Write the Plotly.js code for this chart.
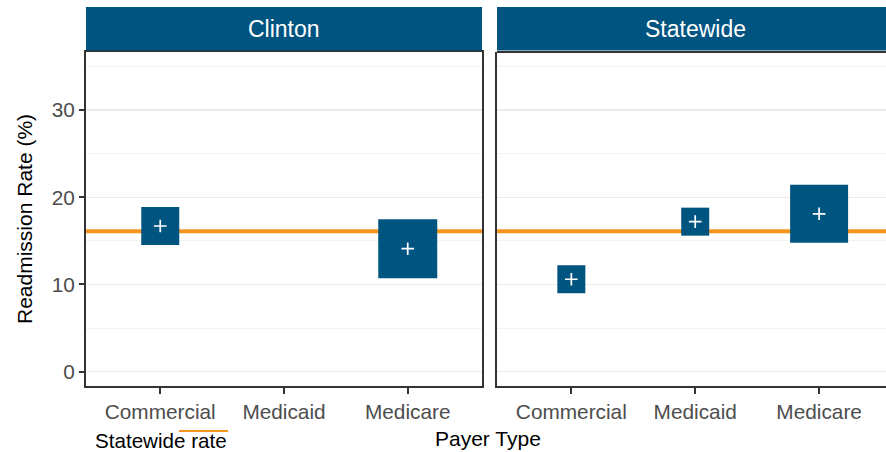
<!DOCTYPE html>
<html>
<head>
<meta charset="utf-8">
<script src="https://cdn.plot.ly/plotly-3.0.1.min.js"></script>
<style>html,body{margin:0;padding:0;overflow:hidden;background:#fff;}#chart{width:886px;height:452px;}</style>
</head>
<body>
<div id="chart"></div>
<script>
// ---- data ----
const categories = ['Commercial', 'Medicaid', 'Medicare'];
const facetLabels = ['Clinton', 'Statewide'];
const clintonRates = [16.7, null, 14.1];
const statewideRates = [10.6, 17.2, 18.1];
const statewideRate = 16.1;
const yTickVals = [0, 10, 20, 30];
const legendLabel = 'Statewide rate';
const xTitle = 'Payer Type';
const yTitle = 'Readmission Rate (%)';

// ---- styles ----
const clintonSizes = [38, 0, 59];
const statewideSizes = [28, 28, 58];
const BLUE = '#005480';
const ORANGE = '#F7941E';
const FONT = 'Liberation Sans, Arial, Helvetica, sans-serif';
const W = 886, H = 452;
const px = v => v / W;
const py = v => 1 - v / H;

const panelL = [86, 482], panelR = [497, 886];
const panelTop = 52, panelBot = 386;

function boxTrace(vals, sizes, xa, ya) {
  return {
    type: 'scatter', mode: 'markers', x: categories, y: vals, xaxis: xa, yaxis: ya,
    marker: {symbol: 'square', size: sizes, color: BLUE, opacity: 1, line: {width: 0}},
    hoverinfo: 'skip', showlegend: false
  };
}
function plusTrace(vals, xa, ya) {
  return {
    type: 'scatter', mode: 'markers', x: categories, y: vals, xaxis: xa, yaxis: ya,
    marker: {symbol: 'cross-thin', size: 9, color: '#ffffff', opacity: 1, line: {width: 1.7, color: '#ffffff'}},
    hoverinfo: 'skip', showlegend: false
  };
}

const traces = [
  boxTrace(clintonRates, clintonSizes, 'x', 'y'),
  plusTrace(clintonRates, 'x', 'y'),
  boxTrace(statewideRates, statewideSizes, 'x2', 'y2'),
  plusTrace(statewideRates, 'x2', 'y2')
];

const yBase = {
  range: [-1.64, 36.65], domain: [py(panelBot), py(panelTop)],
  tickvals: yTickVals, showgrid: true, gridcolor: '#EBEBEB', gridwidth: 1.3,
  minor: {dtick: 5, tick0: 0, showgrid: true, gridcolor: '#F2F2F2', gridwidth: 1, ticks: ''},
  zeroline: false, showline: true, linecolor: '#333333', linewidth: 2,
  fixedrange: true
};
const xBase = {
  type: 'category', tickvals: categories, showgrid: false, zeroline: false,
  showline: true, linecolor: '#333333', linewidth: 2, mirror: true,
  ticks: 'outside', ticklen: 6, tickwidth: 2, tickcolor: '#333333',
  tickfont: {family: FONT, size: 20.8, color: '#4D4D4D'}, fixedrange: true
};

const layout = {
  width: W, height: H,
  margin: {l: 0, r: 0, t: 0, b: 0, pad: 0},
  paper_bgcolor: '#ffffff', plot_bgcolor: '#ffffff',
  showlegend: false,
  font: {family: FONT},
  xaxis: Object.assign({}, xBase, {domain: [px(panelL[0]), px(panelL[1])], range: [-0.6, 2.6], anchor: 'y'}),
  xaxis2: Object.assign({}, xBase, {domain: [px(panelR[0]), 1], range: [-0.6, 2.54], anchor: 'y2', mirror: false}),
  yaxis: Object.assign({}, yBase, {anchor: 'x', mirror: true,
    ticks: 'outside', ticklen: 5, tickwidth: 2, tickcolor: '#333333',
    tickfont: {family: FONT, size: 20.8, color: '#4D4D4D'}}),
  yaxis2: Object.assign({}, yBase, {anchor: 'x2', showticklabels: false, ticks: ''}),
  shapes: [
    // strips
    {type: 'rect', xref: 'paper', yref: 'paper', x0: px(panelL[0]), x1: px(panelL[1]), y0: py(50.5), y1: py(7),
      fillcolor: BLUE, line: {width: 0}, layer: 'above'},
    {type: 'rect', xref: 'paper', yref: 'paper', x0: px(panelR[0]), x1: 1, y0: py(50.5), y1: py(7),
      fillcolor: BLUE, line: {width: 0}, layer: 'above'},
    // top border of right panel
    {type: 'line', xref: 'paper', yref: 'paper', x0: px(panelR[0]), x1: 1, y0: py(panelTop), y1: py(panelTop),
      line: {color: '#333333', width: 2}, layer: 'above'},
    // statewide reference lines
    {type: 'line', xref: 'x domain', yref: 'y', x0: 0, x1: 1, y0: statewideRate, y1: statewideRate,
      line: {color: ORANGE, width: 4}, layer: 'below'},
    {type: 'line', xref: 'x2 domain', yref: 'y2', x0: 0, x1: 1, y0: statewideRate, y1: statewideRate,
      line: {color: ORANGE, width: 4}, layer: 'below'},
    // legend key
    {type: 'line', xref: 'paper', yref: 'paper', x0: px(179), x1: px(228), y0: py(431), y1: py(431),
      line: {color: ORANGE, width: 2}}
  ],
  annotations: [
    {text: facetLabels[0], xref: 'paper', yref: 'paper', x: px(284), y: py(28.5), xanchor: 'center', yanchor: 'middle',
      showarrow: false, font: {family: FONT, size: 23, color: '#ffffff'}},
    {text: facetLabels[1], xref: 'paper', yref: 'paper', x: px(695), y: py(28.5), xanchor: 'center', yanchor: 'middle',
      showarrow: false, font: {family: FONT, size: 23, color: '#ffffff'}},
    {text: xTitle, xref: 'paper', yref: 'paper', x: px(488), y: py(438), xanchor: 'center', yanchor: 'middle',
      showarrow: false, font: {family: FONT, size: 21, color: '#000000'}},
    {text: yTitle, xref: 'paper', yref: 'paper', x: px(24), y: py(219), xanchor: 'center', yanchor: 'middle',
      textangle: -90, showarrow: false, font: {family: FONT, size: 21, color: '#000000'}},
    {text: legendLabel, xref: 'paper', yref: 'paper', x: px(93), y: py(440), xanchor: 'left', yanchor: 'middle',
      showarrow: false, font: {family: FONT, size: 20.6, color: '#000000'}}
  ]
};

Plotly.newPlot('chart', traces, layout, {displayModeBar: false, staticPlot: true});
</script>
</body>
</html>
